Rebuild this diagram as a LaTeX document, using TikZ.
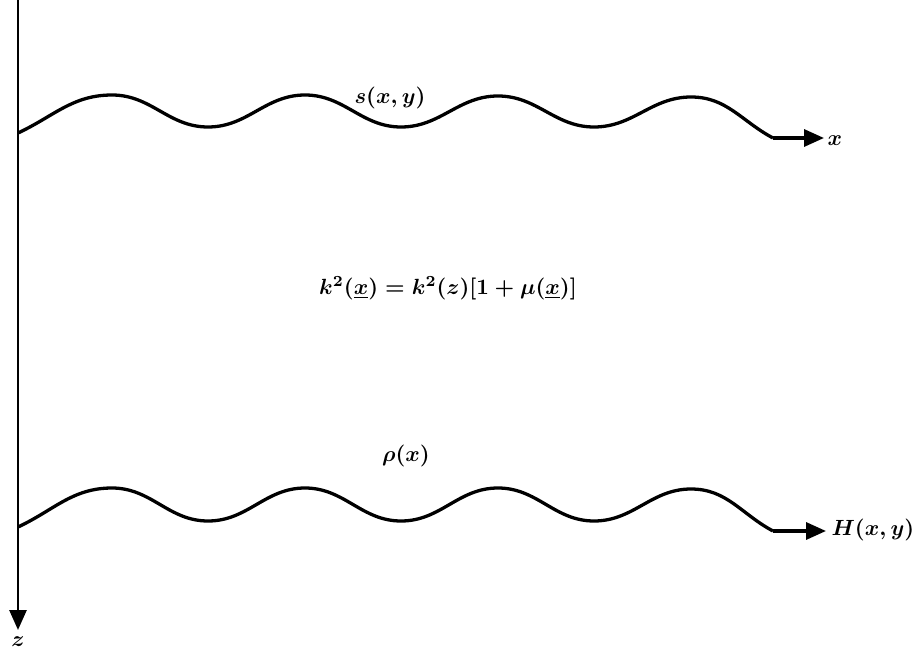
\documentclass[tikz,border=0pt]{standalone}
\usetikzlibrary{arrows.meta}
\tikzset{
  wave/.style={line width=3.3pt, line join=round},
  bigtip/.style={-{Triangle[length=20pt,width=17pt]}},
  lbl/.style={font=\boldmath, inner sep=0.5pt, scale=2.2}
}
\begin{document}
\begin{tikzpicture}[x=1pt,y=-1pt]
\useasboundingbox (0,0) rectangle (915,652);
% axis
\coordinate (axtop) at (18,0);
\coordinate (axend) at (18,630);
\node[lbl] (z) at (18,642) {$z$};
\draw[wave, line width=2.7pt, bigtip] (axtop) -- (axend);
% top wave
\coordinate (s0) at (18,133);
\coordinate (send) at (773,138);
\coordinate (stip) at (824,138);
\draw[wave] (s0) to[out=25,in=180] (112,95)
  to[out=0,in=180] (208,127) to[out=0,in=180] (305,95)
  to[out=0,in=180] (401,127) to[out=0,in=180] (498,96)
  to[out=0,in=180] (594,127) to[out=0,in=180] (691,97)
  to[out=0,in=152] (send);
\draw[wave, bigtip] (send) -- (stip);
\node[lbl, anchor=west] (xl) at (826,141) {$x$};
% bottom wave
\coordinate (b0) at (18,527);
\coordinate (bend) at (773,531);
\coordinate (btip) at (826,531);
\draw[wave] (b0) to[out=25,in=180] (112,488)
  to[out=0,in=180] (208,521) to[out=0,in=180] (305,488)
  to[out=0,in=180] (401,521) to[out=0,in=180] (498,488)
  to[out=0,in=180] (594,521) to[out=0,in=180] (691,489)
  to[out=0,in=152] (bend);
\draw[wave, bigtip] (bend) -- (btip);
\node[lbl, anchor=west] (hl) at (830,530) {$H(x,y)$};
% labels
\node[lbl] (sl) at (390,98) {$s(x,y)$};
\node[lbl] (kl) at (448,288) {$k^2(\underline{x}) = k^2(z)[1 + \mu(\underline{x})]$};
\node[lbl] (rl) at (406,456) {$\rho(x)$};
\end{tikzpicture}
\end{document}
